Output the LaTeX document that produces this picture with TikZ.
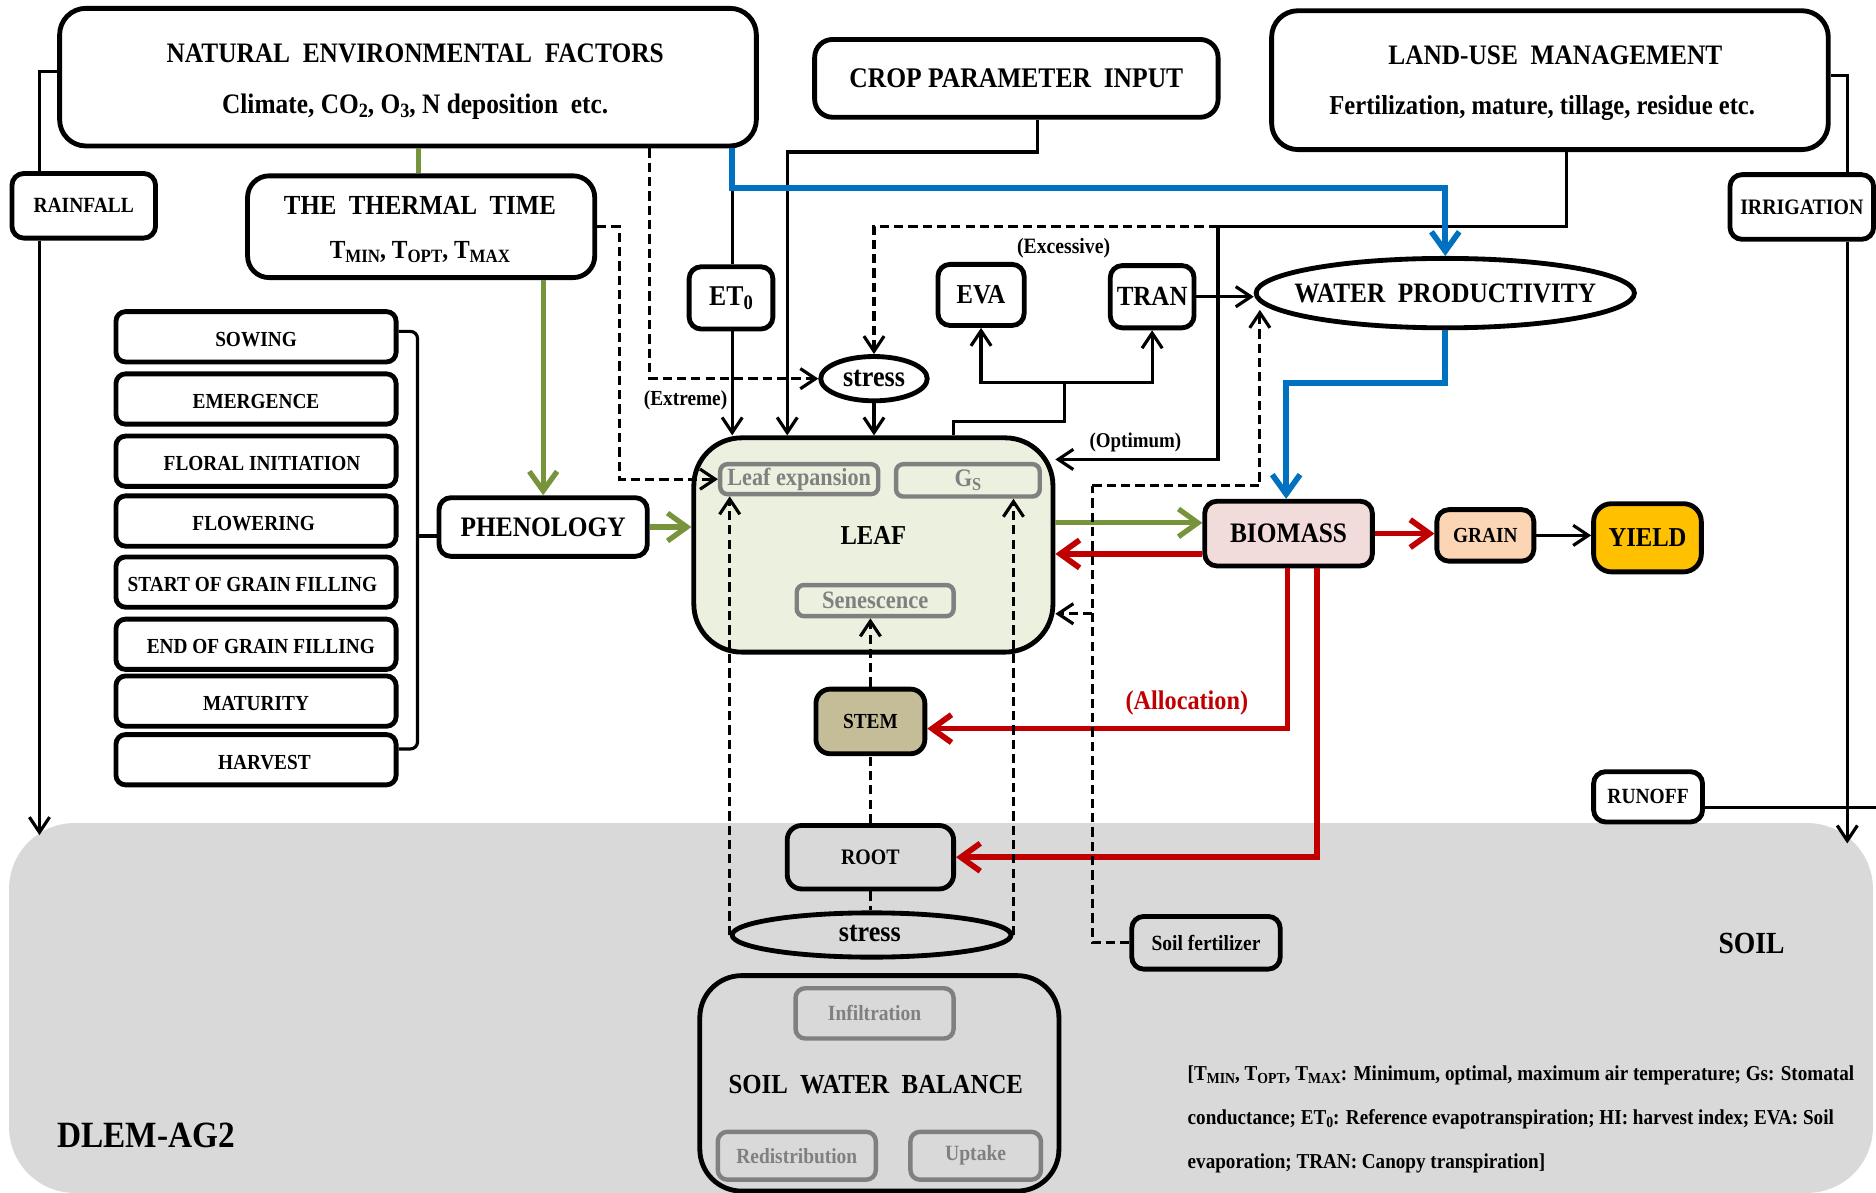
\documentclass[tikz,border=0pt]{standalone}
\usepackage{fontspec}
\setmainfont{Liberation Serif}[FakeStretch=0.9]
\usetikzlibrary{arrows.meta,shapes.geometric}

\definecolor{grnc}{HTML}{77933C}
\definecolor{redc}{HTML}{C00000}
\definecolor{bluc}{HTML}{0070C0}
\definecolor{leafg}{HTML}{EBF1DE}
\definecolor{biof}{HTML}{F2DCDB}
\definecolor{grainf}{HTML}{FCD5B5}
\definecolor{yieldf}{HTML}{FFC000}
\definecolor{stemf}{HTML}{C4BD97}
\definecolor{soilg}{HTML}{D9D9D9}
\definecolor{subg}{HTML}{808080}

\newcommand{\fsz}[1]{\fontsize{#1}{#1}\selectfont\bfseries}
\newcommand{\lowsub}[1]{\raisebox{-0.3ex}{\scalebox{0.72}{#1}}}

\begin{document}
\begin{tikzpicture}[x=0.01cm,y=-0.01cm,
  bx/.style={draw, line width=1.15pt, rounded corners=#1, inner sep=0pt},
  bx/.default=1mm,
  subbx/.style={draw=subg, line width=1.05pt, rounded corners=#1, inner sep=0pt, text=subg},
  subbx/.default=0.6mm,
  ell/.style={ellipse, draw, line width=1.15pt, inner sep=0pt},
  lbl/.style={inner sep=0pt, anchor=mid},
  thinln/.style={line width=0.75pt},
  dashln/.style={line width=0.75pt, dash pattern=on 2.2pt off 1.2pt},
  grnln/.style={line width=1.25pt, draw=grnc},
  redln/.style={line width=1.35pt, draw=redc},
  bluln/.style={line width=1.35pt, draw=bluc},
  arr/.style={-{Straight Barb[length=3.6pt,width=4.8pt]}},
  bigarr/.style={-{Straight Barb[length=4.6pt,width=6.6pt]}}
]
\useasboundingbox (0,0) rectangle (1568,997);

% soil region
\node[fill=soilg, rounded corners=0.55cm, minimum width=15.57cm, minimum height=3.09cm, inner sep=0pt] (soil) at (786.5,842.5) {};

% driver boxes along the top
\node[bx=2.2mm, minimum width=5.82cm, minimum height=1.15cm] (nef) at (341,64.5) {};
\node[lbl, font=\fsz{6.7pt}] (neft1) at (347,44) {NATURAL\ \ ENVIRONMENTAL\ \ FACTORS};
\node[lbl, font=\fsz{6.7pt}] (neft2) at (347,87) {Climate, CO\lowsub{2}, O\lowsub{3}, N deposition\ \ etc.};
\node[bx=1.5mm, minimum width=3.37cm, minimum height=0.65cm, font=\fsz{6.75pt}] (cpi) at (849.5,65.5) {CROP PARAMETER\ \ INPUT};
\node[bx=2.2mm, minimum width=4.65cm, minimum height=1.16cm] (lum) at (1295.5,67) {};
\node[lbl, font=\fsz{6.7pt}] (lumt1) at (1300,46) {LAND-USE\ \ MANAGEMENT};
\node[lbl, font=\fsz{6.5pt}] (lumt2) at (1289,88) {Fertilization, mature, tillage, residue etc.};

\node[bx, minimum width=1.2cm, minimum height=0.54cm, font=\fsz{5.15pt}] (rain) at (70,172) {RAINFALL};
\node[bx=1.8mm, minimum width=2.9cm, minimum height=0.85cm] (tt) at (352,189.5) {};
\node[lbl, font=\fsz{6.56pt}] (ttt1) at (351,171) {THE\ \ THERMAL\ \ TIME};
\node[lbl, font=\fsz{6.2pt}] (ttt2) at (351,208) {T\lowsub{MIN}, T\lowsub{OPT}, T\lowsub{MAX}};
\node[bx, minimum width=1.2cm, minimum height=0.54cm, font=\fsz{5.24pt}] (irr) at (1506,173) {IRRIGATION};

% water fluxes
\node[bx, minimum width=0.70cm, minimum height=0.52cm, font=\fsz{6.8pt}] (et0) at (611,249) {ET\lowsub{0}};
\node[bx, minimum width=0.72cm, minimum height=0.51cm, font=\fsz{6.5pt}] (eva) at (820,246.5) {EVA};
\node[bx, minimum width=0.70cm, minimum height=0.52cm, font=\fsz{6.6pt}] (tran) at (963,248) {TRAN};
\node[ell, minimum width=3.16cm, minimum height=0.58cm] (wp) at (1208,245) {};
\node[lbl, font=\fsz{6.68pt}] (wpt) at (1208,245) {WATER\ \ PRODUCTIVITY};
\node[ell, minimum width=0.89cm, minimum height=0.37cm] (st1) at (730.5,316.5) {};
\node[lbl, font=\fsz{6.9pt}] (st1t) at (730.5,315) {stress};

% phenological stages
\foreach \n/\yc/\xt/\lab in {s1/281.5/214/SOWING, s2/333.5/214/EMERGENCE,
    s3/385.5/219/FLORAL INITIATION, s4/435.5/212/FLOWERING,
    s5/486.5/211/START OF GRAIN FILLING, s6/538.5/218/END OF GRAIN FILLING,
    s7/586/214/MATURITY, s8/635/221/HARVEST}{
  \node[bx=0.8mm, minimum width=2.34cm, minimum height=0.42cm] (\n) at (214,\yc) {};
  \node[lbl, font=\fsz{5.1pt}] (\n t) at (\xt,\yc) {\lab};
}
\node[bx, minimum width=1.74cm, minimum height=0.49cm, font=\fsz{6.7pt}] (phen) at (454,440.5) {PHENOLOGY};

% leaf
\node[bx=4mm, fill=leafg, minimum width=3.0cm, minimum height=1.79cm] (leaf) at (730,455.5) {};
\node[lbl, font=\fsz{6.5pt}] (leaft) at (730,447) {LEAF};
\node[subbx, minimum width=1.32cm, minimum height=0.25cm, font=\fsz{5.86pt}] (lexp) at (668,400.5) {Leaf expansion};
\node[subbx, minimum width=1.20cm, minimum height=0.27cm, font=\fsz{6pt}] (gs) at (809,401.5) {G\lowsub{S}};
\node[subbx, minimum width=1.31cm, minimum height=0.26cm, font=\fsz{5.95pt}] (sen) at (731.5,502) {Senescence};

% carbon pools
\node[bx, fill=biof, minimum width=1.40cm, minimum height=0.54cm, font=\fsz{6.7pt}] (bio) at (1077,446) {BIOMASS};
\node[bx, fill=grainf, minimum width=0.81cm, minimum height=0.43cm, font=\fsz{5.1pt}] (grain) at (1241.5,447.5) {GRAIN};
\node[bx=1.5mm, fill=yieldf, minimum width=0.90cm, minimum height=0.57cm, font=\fsz{6.5pt}] (yield) at (1377,449.5) {YIELD};
\node[bx=1.2mm, fill=stemf, minimum width=0.91cm, minimum height=0.54cm, font=\fsz{5.1pt}] (stem) at (727.5,603) {STEM};
\node[bx=1.2mm, minimum width=1.39cm, minimum height=0.53cm, font=\fsz{5.25pt}] (root) at (727.5,716.5) {ROOT};
\node[ell, minimum width=2.33cm, minimum height=0.37cm] (st2) at (728.5,781.5) {};
\node[lbl, font=\fsz{6.9pt}] (st2t) at (727,779) {stress};

% soil side
\node[bx, minimum width=1.24cm, minimum height=0.44cm, font=\fsz{5.15pt}] (fert) at (1008,788) {Soil fertilizer};
\node[bx=3.5mm, minimum width=3.0cm, minimum height=1.8cm] (swb) at (735,905.5) {};
\node[lbl, font=\fsz{6.55pt}] (swbt) at (732,906) {SOIL\ \ WATER\ \ BALANCE};
\node[subbx=0.8mm, minimum width=1.32cm, minimum height=0.42cm, font=\fsz{5.16pt}] (infil) at (731,847) {Infiltration};
\node[subbx=0.8mm, minimum width=1.32cm, minimum height=0.40cm, font=\fsz{5.13pt}] (redis) at (666,966) {Redistribution};
\node[subbx=0.8mm, minimum width=1.09cm, minimum height=0.40cm, font=\fsz{5.18pt}] (upt) at (815.5,966) {Uptake};
\node[bx, fill=white, minimum width=0.91cm, minimum height=0.42cm, font=\fsz{5.15pt}] (runoff) at (1377.5,666) {RUNOFF};
\node[lbl, font=\fsz{7.3pt}] (soilt) at (1464,789) {SOIL};
\node[lbl, font=\fsz{8.8pt}] (model) at (122,951) {DLEM-AG2};

% legend
\node[lbl, anchor=mid west, font=\fsz{5.05pt}] (lg1) at (992,895) {[T\lowsub{MIN}, T\lowsub{OPT}, T\lowsub{MAX}: Minimum, optimal, maximum air temperature; Gs: Stomatal};
\node[lbl, anchor=mid west, font=\fsz{5.05pt}] (lg2) at (992,932) {conductance; ET\lowsub{0}: Reference evapotranspiration; HI: harvest index; EVA: Soil};
\node[lbl, anchor=mid west, font=\fsz{5.05pt}] (lg3) at (992,969) {evaporation; TRAN: Canopy transpiration]};

% rainfall, irrigation, runoff
\coordinate (rx) at (33,0);
\coordinate (rainend) at (33,698);
\draw[thinln] (nef.west |- 0,60) -| (rx |- rain.north);
\draw[thinln,arr] (rx |- rain.south) -- (rainend);
\coordinate (ix) at (1544,0);
\coordinate (irrend) at (1544,705);
\draw[thinln] (lum.east |- 0,63) -| (ix |- irr.north);
\draw[thinln,arr] (ix |- irr.south) -- (irrend);
\coordinate (roend) at (1568,675);
\draw[thinln] (runoff.east |- roend) -- (roend);

% stage bracket
\draw[thinln, rounded corners=0.6mm] (s1.east |- 0,277) -| (349,448) |- (s8.east |- 0,626);
\draw[thinln] (349,448) -- (phen.west |- 0,448);

% phenology chain
\draw[grnln] (nef.south -| 350,0) -- (tt.north -| 350,0);
\draw[grnln,bigarr] (tt.south -| phen.north) -- (phen.north);
\draw[grnln,bigarr] (phen.east) -- (leaf.west |- phen.east);
\draw[grnln,bigarr] (leaf.east |- 0,437) -- (bio.west |- 0,437);

% allocation
\draw[redln,bigarr] (bio.west |- 0,463) -- (leaf.east |- 0,463);
\draw[redln,bigarr] (bio.east) -- (grain.west |- bio.east);
\draw[redln,bigarr] (bio.south -| 1076,0) |- (stem.east |- 0,609);
\draw[redln,bigarr] (bio.south -| 1101,0) |- (root.east);
\node[lbl, font=\fsz{6.4pt}, text=redc] (alloc) at (992,585) {(Allocation)};
\draw[thinln,arr] (grain.east) -- (yield.west |- grain.east);

% inputs into the leaf
\coordinate (bcorner) at (612,157);
\draw[thinln] (bcorner) -- (et0.north -| bcorner);
\draw[thinln,arr] (et0.south -| bcorner) -- (leaf.north -| bcorner);
\draw[thinln,arr] (cpi.south -| 867,0) |- (658,127) -- (leaf.north -| 658,0);
\coordinate (lj) at (1018,189);
\draw[thinln] (lum.south -| 1309,0) |- (lj);
\draw[thinln,arr] (lj) |- (leaf.east |- 0,384);
\node[lbl, font=\fsz{5.0pt}] (optl) at (949,366) {(Optimum)};
\draw[dashln,arr] (lj) -- (st1.north |- lj) -- (st1.north);
\node[lbl, font=\fsz{5.2pt}] (excl) at (889,204) {(Excessive)};
\draw[dashln,arr] (nef.south -| 543,0) |- (st1.west);
\node[lbl, font=\fsz{5.1pt}] (extl) at (573,331) {(Extreme)};
\draw[dashln,arr] (tt.east) -- (tt.east -| 518,0) |- (lexp.west);
\draw[thinln,arr] (st1.south) -- (leaf.north -| st1.south);

% leaf to evaporation and transpiration
\coordinate (ej) at (890,320);
\draw[thinln] (leaf.north -| 797,0) |- (890,352) -- (ej);
\draw[thinln,arr] (ej) -| (eva.south);
\draw[thinln,arr] (ej) -| (tran.south);
\draw[thinln,arr] (tran.east) -- (wp.west |- tran.east);

% soil fertilizer feedbacks
\coordinate (fj) at (913,406);
\coordinate (wpin) at (1053,259);
\draw[dashln] (fert.west) -| (fj);
\draw[dashln,arr] (fj) -| (wpin);
\draw[dashln,arr] (fj |- 0,513) -- (leaf.east |- 0,513);

% soil stress feedbacks
\draw[dashln,arr] (st2.west) -- (lexp.south -| st2.west);
\draw[dashln,arr] (st2.east) -- (gs.south -| st2.east);
\draw[dashln] (root.south) -- (st2.north -| root.south);
\draw[dashln] (root.north) -- (stem.south -| root.north);
\draw[dashln,arr] (stem.north) -- (sen.south -| stem.north);

% water productivity path
\draw[bluln,bigarr] (nef.south -| bcorner) -- (bcorner) -| (wp.north);
\draw[bluln,bigarr] (wp.south) |- (1075,320) -- (bio.north -| 1075,0);
\end{tikzpicture}
\end{document}
